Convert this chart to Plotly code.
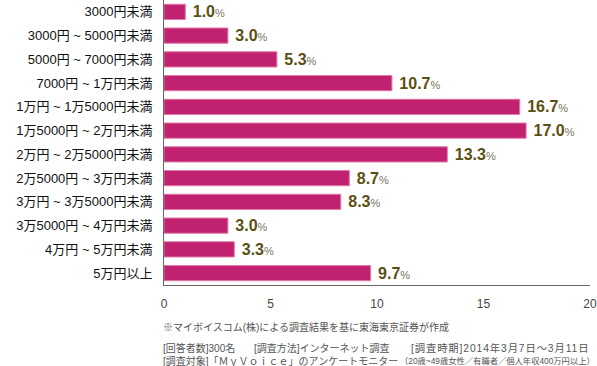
import plotly.graph_objects as go

categories = ["3000円未満", "3000円 ~ 5000円未満", "5000円 ~ 7000円未満", "7000円 ~ 1万円未満",
              "1万円 ~ 1万5000円未満", "1万5000円 ~ 2万円未満", "2万円 ~ 2万5000円未満",
              "2万5000円 ~ 3万円未満", "3万円 ~ 3万5000円未満", "3万5000円 ~ 4万円未満",
              "4万円 ~ 5万円未満", "5万円以上"]
values = [1.0, 3.0, 5.3, 10.7, 16.7, 17.0, 13.3, 8.7, 8.3, 3.0, 3.3, 9.7]
x_ticks = [0, 5, 10, 15, 20]
note1 = "※マイボイスコム(株)による調査結果を基に東海東京証券が作成"
note2_parts = ["[回答者数]300名", "[調査方法]インターネット調査", "[調査時期]2014年3月7日～3月11日"]
note3_main = "[調査対象]「ＭｙＶｏｉｃｅ」のアンケートモニター"
note3_sub = "（20歳~49歳女性／有職者／個人年収400万円以上）"

font_family = "Liberation Sans, Noto Sans CJK JP, sans-serif"
labels = [f"\u00a0<b>{v:.1f}</b><span style='font-size:11px;font-weight:normal;fill:#7A7560'>%</span>"
          for v in values]

fig = go.Figure(go.Bar(
    x=values, y=categories, orientation="h",
    marker=dict(color="#C0226F", line=dict(color="#E07AAA", width=1)),
    text=labels, textposition="outside", cliponaxis=False, constraintext="none",
    textfont=dict(color="#5A5012", size=16, family="Liberation Sans, Arial, sans-serif"),
))

fig.update_layout(
    width=597, height=366,
    margin=dict(l=164, r=7, t=0, b=81, autoexpand=False),
    paper_bgcolor="white", plot_bgcolor="white",
    showlegend=False, bargap=0.36,
    font=dict(family=font_family),
)
fig.update_xaxes(range=[0, 20], tickvals=x_ticks, showgrid=False, zeroline=False, automargin=False,
                 showline=True, linecolor="#666", linewidth=1,
                 ticks="outside", ticklen=8, tickcolor="rgba(0,0,0,0)",
                 tickfont=dict(size=12, color="#444", family="Liberation Sans, Arial, sans-serif"))
fig.update_yaxes(autorange="reversed", showgrid=False, showline=True, linecolor="#666", linewidth=1,
                 automargin=False, ticks="outside", ticklen=8, tickcolor="rgba(0,0,0,0)",
                 tickfont=dict(size=13, color="#111", family=font_family))


def px_to_paper(px):
    return (px - 164) / 426


def add_note(text, x_px, y, size=10):
    fig.add_annotation(text=text, xref="paper", yref="paper", x=px_to_paper(x_px), y=y,
                       xanchor="left", yanchor="middle", showarrow=False,
                       font=dict(size=size, color="#555", family=font_family))


add_note(note1, 161, -0.148)
add_note(note2_parts[0], 161, -0.222)
add_note(note2_parts[1], 252, -0.222)
add_note(f"<span style='letter-spacing:0.9px'>{note2_parts[2]}</span>", 409, -0.222, size=10.3)
add_note(note3_main, 161, -0.268)
add_note(note3_sub, 398, -0.268, size=8.3)

fig.write_html("out.html", config={"displayModeBar": False},
               post_script="document.body.style.margin='0';document.body.style.overflow='hidden';")
